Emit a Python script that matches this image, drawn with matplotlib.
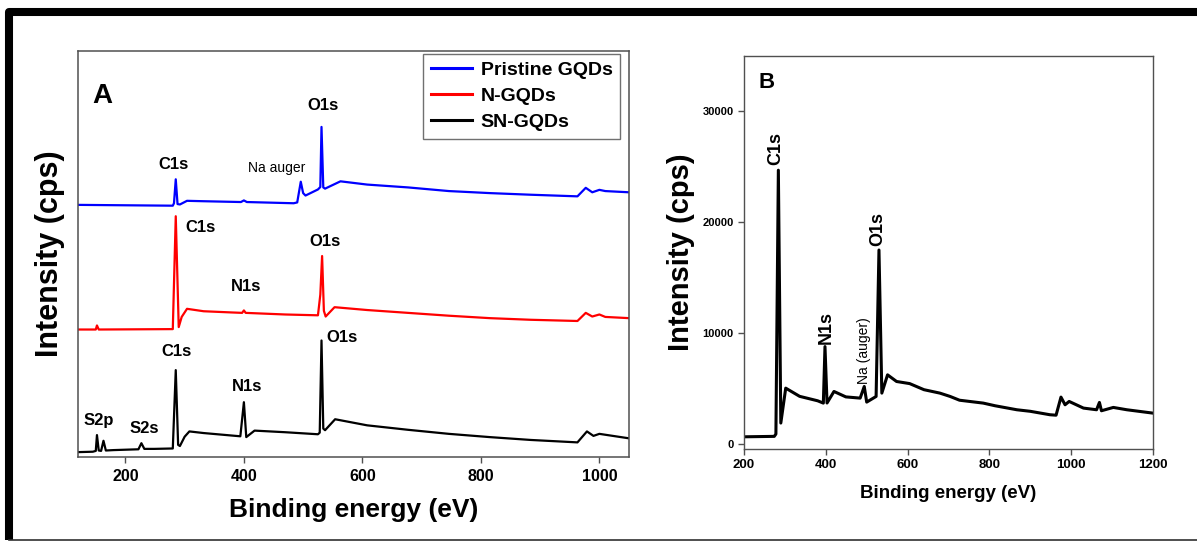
import matplotlib
matplotlib.use("Agg")
import matplotlib.pyplot as plt
from matplotlib.lines import Line2D

plt.rcParams["font.family"] = ["Liberation Sans", "DejaVu Sans"]

# XPS survey spectra, stacked (arbitrary units incl. offsets)
pristine_ev = [120, 280, 282, 285, 288, 292, 304, 332, 395, 400, 405, 484, 490, 496,
               500, 504, 525, 529, 531, 534, 537, 563, 608, 677, 746, 815, 884, 963,
               977, 988, 1000, 1010, 1050]
pristine_int = [62.1, 61.9, 62.5, 68.4, 62.3, 62.2, 63.1, 63.0, 62.8, 63.2, 62.8, 62.5,
                62.7, 67.8, 65.0, 64.4, 65.9, 66.5, 81.3, 66.4, 66.1, 67.9, 67.1, 66.4,
                65.5, 65.0, 64.6, 64.2, 66.3, 65.2, 65.8, 65.5, 65.2]

ngqd_ev = [120, 150, 152, 155, 280, 285, 290, 295, 304, 332, 380, 397, 400, 403, 470,
           525, 529, 532, 535, 538, 553, 608, 677, 746, 815, 884, 963, 977, 988, 1000,
           1010, 1050]
ngqd_int = [31.4, 31.4, 32.4, 31.4, 31.5, 59.3, 32.0, 34.5, 36.5, 35.9, 35.6, 35.5,
            36.1, 35.5, 35.1, 34.9, 40.0, 49.5, 36.0, 34.6, 36.9, 36.2, 35.5, 34.8,
            34.2, 33.8, 33.5, 35.5, 34.6, 35.1, 34.5, 34.2]

sngqd_ev = [120, 145, 150, 152, 155, 159, 163, 167, 180, 222, 227, 232, 249, 280, 285,
            289, 292, 300, 308, 332, 394, 400, 404, 418, 470, 525, 528, 531, 534, 537,
            554, 608, 677, 746, 815, 884, 963, 979, 990, 1000, 1050]
sngqd_int = [1.2, 1.3, 1.5, 5.4, 1.6, 1.5, 4.0, 1.6, 1.7, 1.9, 3.4, 2.0, 2.0, 2.1, 21.4,
             3.0, 2.7, 5.0, 6.3, 5.9, 5.1, 13.5, 4.9, 6.5, 6.1, 5.6, 6.0, 28.7, 7.0,
             6.6, 9.3, 7.8, 6.7, 5.7, 4.9, 4.2, 3.6, 6.3, 5.2, 5.7, 4.6]

# SN-GQDs survey in counts per second
survey_ev = [200, 274, 278, 284, 290, 302, 336, 380, 394, 398, 403, 420, 449, 484, 494,
             500, 523, 530, 537, 551, 573, 605, 640, 679, 704, 727, 785, 814, 867, 900,
             948, 963, 975, 985, 995, 1030, 1062, 1069, 1074, 1103, 1136, 1199]
survey_cps = [650, 690, 900, 24700, 1890, 5040, 4300, 3900, 3690, 8790, 3700, 4740,
              4250, 4140, 5190, 3780, 4290, 17500, 4590, 6240, 5640, 5450, 4900, 4590,
              4290, 3950, 3690, 3450, 3090, 2950, 2640, 2600, 4230, 3540, 3840, 3240,
              3090, 3750, 3000, 3300, 3090, 2790]

# peak labels: (text, eV, y, bold)
labels_a = [("C1s", 282, 72.1, True), ("Na auger", 456, 71.2, False),
            ("O1s", 534, 86.6, True), ("C1s", 327, 56.6, True), ("N1s", 403, 42.0, True),
            ("O1s", 537, 53.2, True), ("C1s", 287, 25.9, True), ("N1s", 406, 17.4, True),
            ("O1s", 565, 29.5, True), ("S2p", 155, 9.1, True), ("S2s", 232, 7.0, True)]
labels_b = [("C1s", 277, 25200, True), ("N1s", 400, 9000, True),
            ("Na (auger)", 494, 5400, False), ("O1s", 527, 17900, True)]

W, H = 1197, 542
fig = plt.figure(figsize=(W / 100, H / 100), dpi=100)


def add_axes_px(left, top, right, bottom):
    return fig.add_axes([left / W, 1 - bottom / H, (right - left) / W, (bottom - top) / H])


spine_col = "#505050"

# ---- panel A
ax = add_axes_px(78, 51, 629, 457)
ax.plot(pristine_ev, pristine_int, color="#0000ff", lw=1.6, label="Pristine GQDs")
ax.plot(ngqd_ev, ngqd_int, color="#ff0000", lw=1.6, label="N-GQDs")
ax.plot(sngqd_ev, sngqd_int, color="black", lw=1.6, label="SN-GQDs")
ax.set_xlim(120, 1050)
ax.set_ylim(0, 100)
ax.set_yticks([])
ax.set_xticks([200, 400, 600, 800, 1000])
ax.tick_params(axis="x", direction="out", length=4.5, width=1, color=spine_col,
               labelsize=11.5, pad=4)
for t in ax.get_xticklabels():
    t.set_fontweight("bold")
for s in ax.spines.values():
    s.set_color(spine_col)
    s.set_linewidth(1.1)
ax.set_xlabel("Binding energy (eV)", fontsize=19, fontweight="bold")
ax.xaxis.set_label_coords(0.5, -0.1)
ax.set_ylabel("Intensity (cps)", fontsize=22, fontweight="bold")
ax.yaxis.set_label_coords(-0.024, 0.5)
for txt, x, y, bold in labels_a:
    ax.text(x, y, txt, ha="center", va="center",
            fontsize=12 if bold else 10, fontweight="bold" if bold else "normal")
ax.text(161, 89, "A", ha="center", va="center", fontsize=20, fontweight="bold")
leg = ax.legend(loc="upper right", bbox_to_anchor=(0.984, 0.993), borderaxespad=0,
                fancybox=False, edgecolor="#707070", framealpha=1,
                prop={"size": 14, "weight": "bold"}, handlelength=2.1,
                handletextpad=0.45, labelspacing=0.42, borderpad=0.4)
leg.get_frame().set_linewidth(1.0)
for ln in leg.get_lines():
    ln.set_linewidth(2.2)

# ---- panel B
bx = add_axes_px(744, 56, 1153, 449)
bx.plot(survey_ev, survey_cps, color="black", lw=2.2)
bx.set_xlim(200, 1200)
bx.set_ylim(-450, 35000)
bx.set_xticks([200, 400, 600, 800, 1000, 1200])
bx.set_yticks([0, 10000, 20000, 30000])
bx.tick_params(direction="out", length=4.5, width=1, color=spine_col, pad=3)
bx.tick_params(axis="x", labelsize=9.5)
bx.tick_params(axis="y", labelsize=8)
for t in bx.get_xticklabels() + bx.get_yticklabels():
    t.set_fontweight("bold")
for s in bx.spines.values():
    s.set_color(spine_col)
    s.set_linewidth(1.0)
bx.set_xlabel("Binding energy (eV)", fontsize=13.5, fontweight="bold")
bx.xaxis.set_label_coords(0.5, -0.092)
bx.set_ylabel("Intensity (cps)", fontsize=21, fontweight="bold")
bx.yaxis.set_label_coords(-0.12, 0.5)
for txt, x, y, bold in labels_b:
    bx.text(x, y, txt, ha="center", va="bottom", rotation=90,
            fontsize=13 if bold else 10, fontweight="bold" if bold else "normal")
bx.text(254, 32600, "B", ha="center", va="center", fontsize=16, fontweight="bold")

# frame around the whole figure
fig.add_artist(Line2D([9 / W, 9 / W, 1.01], [1 - 540 / H, 1 - 12 / H, 1 - 12 / H],
                      lw=5.8, color="black", solid_joinstyle="round",
                      solid_capstyle="butt", transform=fig.transFigure))
fig.add_artist(Line2D([9 / W, 1.0], [1 - 540 / H, 1 - 540 / H], lw=1.2,
                      color="#303030", transform=fig.transFigure))

fig.savefig("out.png", dpi=100)
